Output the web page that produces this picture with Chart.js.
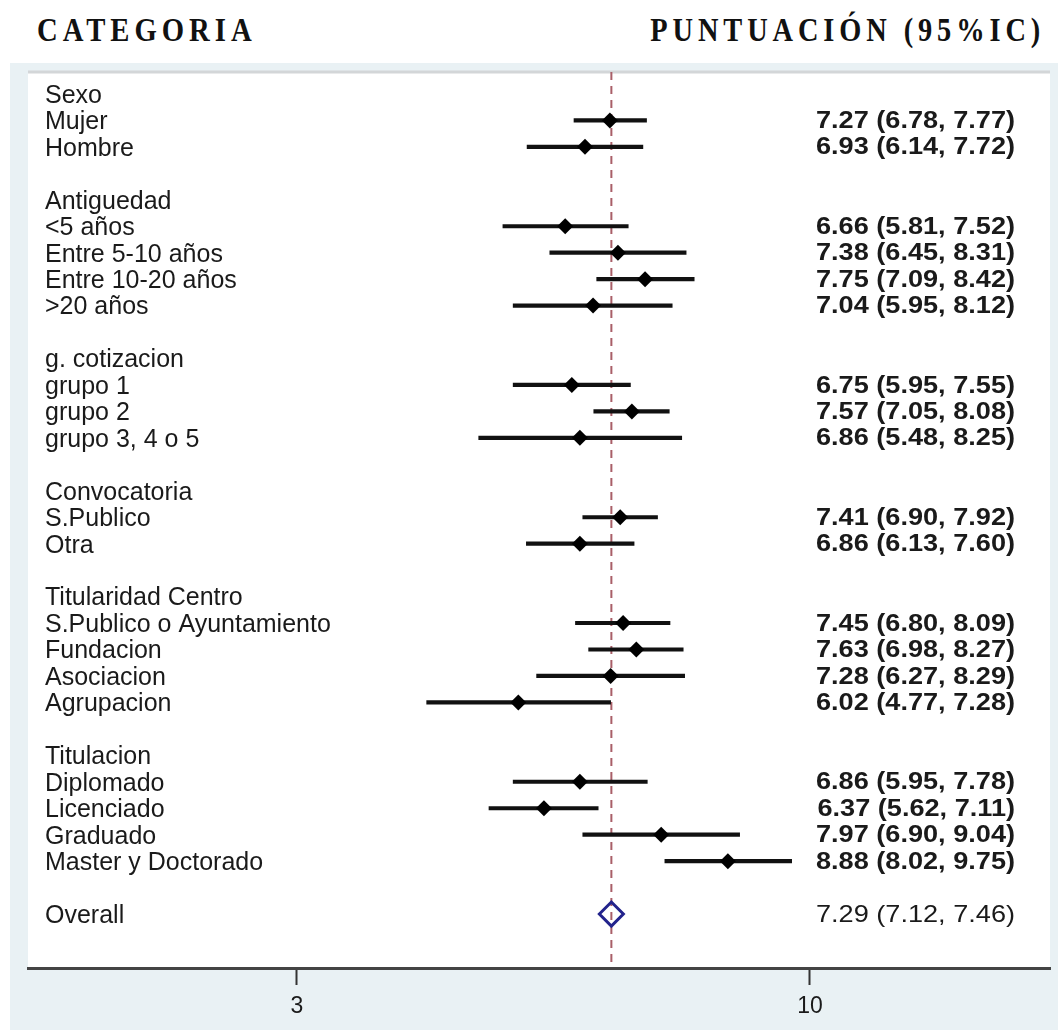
<!DOCTYPE html>
<html>
<head>
<meta charset="utf-8">
<script src="https://cdn.jsdelivr.net/npm/chart.js@4.4.1/dist/chart.umd.min.js"></script>
<style>
  html, body { margin: 0; padding: 0; background: #ffffff; }
  #wrap { position: relative; width: 1058px; height: 1030px; overflow: hidden; }
  #outer { position: absolute; left: 10px; top: 63px; width: 1048px; height: 967px; background: #e9f1f4; }
  .head { position: absolute; top: 14px; font-family: "Liberation Serif", "Times New Roman", serif;
          font-weight: bold; font-size: 33px; line-height: 33px; letter-spacing: 5.7px; color: #111;
          white-space: nowrap; }
  #hLeft { left: 37px; transform: scaleX(0.87); transform-origin: left top; }
  #hRight { right: 13px; transform: scaleX(0.86); transform-origin: right top; }
  #forest { position: absolute; left: 0; top: 0; }
</style>
</head>
<body>
<div id="wrap">
  <div id="outer"></div>
  <div class="head" id="hLeft">CATEGORIA</div>
  <div class="head" id="hRight">PUNTUACIÓN (95%IC)</div>
  <canvas id="forest" width="1058" height="1030"></canvas>
</div>
<script>
// rows of the forest plot, top to bottom ('' = spacer row)
const rowLabels = [
  'Sexo', 'Mujer', 'Hombre', '',
  'Antiguedad', '<5 años', 'Entre 5-10 años', 'Entre 10-20 años', '>20 años', '',
  'g. cotizacion', 'grupo 1', 'grupo 2', 'grupo 3, 4 o 5', '',
  'Convocatoria', 'S.Publico', 'Otra', '',
  'Titularidad Centro', 'S.Publico o Ayuntamiento', 'Fundacion', 'Asociacion', 'Agrupacion', '',
  'Titulacion', 'Diplomado', 'Licenciado', 'Graduado', 'Master y Doctorado', '',
  'Overall'
];
const estimate = [
  null, 7.27, 6.93, null,
  null, 6.66, 7.38, 7.75, 7.04, null,
  null, 6.75, 7.57, 6.86, null,
  null, 7.41, 6.86, null,
  null, 7.45, 7.63, 7.28, 6.02, null,
  null, 6.86, 6.37, 7.97, 8.88, null,
  7.29
];
const lowerCI = [
  null, 6.78, 6.14, null,
  null, 5.81, 6.45, 7.09, 5.95, null,
  null, 5.95, 7.05, 5.48, null,
  null, 6.90, 6.13, null,
  null, 6.80, 6.98, 6.27, 4.77, null,
  null, 5.95, 5.62, 6.90, 8.02, null,
  7.12
];
const upperCI = [
  null, 7.77, 7.72, null,
  null, 7.52, 8.31, 8.42, 8.12, null,
  null, 7.55, 8.08, 8.25, null,
  null, 7.92, 7.60, null,
  null, 8.09, 8.27, 8.29, 7.28, null,
  null, 7.78, 7.11, 9.04, 9.75, null,
  7.46
];
const xTicks = [3, 10];

const overallRow = rowLabels.indexOf('Overall');
const yMin = -0.83, yMax = 33.04;
const xMin = -0.67, xMax = 13.275;

const subRows = estimate.map((v, i) => i).filter(i => estimate[i] !== null && i !== overallRow);

// white panel + right hand estimate column
const panelPlugin = {
  id: 'panel',
  beforeDraw(chart) {
    const {ctx, chartArea: a} = chart;
    ctx.save();
    ctx.fillStyle = '#ffffff';
    ctx.fillRect(a.left, a.top, a.right - a.left, a.bottom - a.top);
    ctx.strokeStyle = '#d3d6d8';
    ctx.lineWidth = 3;
    ctx.beginPath();
    ctx.moveTo(a.left, a.top);
    ctx.lineTo(a.right, a.top);
    ctx.stroke();
    ctx.restore();
  },
  afterDatasetsDraw(chart) {
    const {ctx, chartArea: a, scales: {y}} = chart;
    const xr = a.right - 35;
    estimate.forEach((v, i) => {
      if (v === null) return;
      const txt = v.toFixed(2) + ' (' + lowerCI[i].toFixed(2) + ', ' + upperCI[i].toFixed(2) + ')';
      ctx.save();
      ctx.translate(xr, y.getPixelForValue(i) + 1);
      ctx.scale(1.13, 1);
      ctx.textAlign = 'right';
      ctx.textBaseline = 'middle';
      ctx.fillStyle = '#1a1a1a';
      ctx.font = (i === overallRow ? 'normal' : 'bold') + ' 24px "Liberation Sans", Arial, sans-serif';
      ctx.fillText(txt, 0, 0);
      ctx.restore();
    });
  }
};

new Chart(document.getElementById('forest'), {
  type: 'bar',
  data: {
    datasets: [
      {
        type: 'line',
        label: 'ref',
        data: [{x: estimate[overallRow], y: yMin}, {x: estimate[overallRow], y: yMax}],
        borderColor: '#a95f68',
        borderWidth: 2,
        borderDash: [8, 6],
        pointRadius: 0,
        order: 3
      },
      {
        type: 'bar',
        label: 'IC 95%',
        indexAxis: 'y',
        data: subRows.map(i => ({y: i, x: [lowerCI[i], upperCI[i]]})),
        backgroundColor: '#111111',
        barThickness: 3.5,
        order: 2
      },
      {
        type: 'scatter',
        label: 'Puntuación',
        data: subRows.map(i => ({x: estimate[i], y: i})),
        pointStyle: 'rectRot',
        pointRadius: 8,
        backgroundColor: '#000000',
        borderColor: '#000000',
        borderWidth: 0,
        order: 1
      },
      {
        type: 'scatter',
        label: 'Overall',
        data: [{x: estimate[overallRow], y: overallRow}],
        pointStyle: 'rectRot',
        pointRadius: 12,
        backgroundColor: 'rgba(255,255,255,0)',
        borderColor: '#22238c',
        borderWidth: 3,
        order: 0
      }
    ]
  },
  options: {
    responsive: false,
    animation: false,
    devicePixelRatio: 1,
    layout: { autoPadding: false, padding: { left: 28, right: 8, top: 72, bottom: 10 } },
    plugins: { legend: { display: false }, tooltip: { enabled: false } },
    scales: {
      x: {
        type: 'linear',
        position: 'bottom',
        offset: false,
        min: xMin,
        max: xMax,
        afterBuildTicks: axis => { axis.ticks = xTicks.map(v => ({value: v})); },
        afterFit: axis => { axis.height = 52; },
        grid: { offset: false, drawOnChartArea: false, drawTicks: true, tickLength: 17, tickWidth: 2, tickColor: '#333333' },
        border: { display: true, color: '#444444', width: 3 },
        ticks: { color: '#1a1a1a', padding: 8, maxRotation: 0, font: { family: '"Liberation Sans", Arial, sans-serif', size: 23 } }
      },
      y: {
        type: 'linear',
        reverse: true,
        offset: false,
        min: yMin,
        max: yMax,
        afterBuildTicks: axis => { axis.ticks = rowLabels.map((l, i) => ({value: i})); },
        afterFit: axis => { axis.width = 0; },
        grid: { offset: false, display: false, drawTicks: false },
        border: { display: false },
        ticks: {
          mirror: true,
          padding: 17,
          labelOffset: 2,
          autoSkip: false,
          color: '#1a1a1a',
          font: { family: '"Liberation Sans", Arial, sans-serif', size: 25 },
          callback: v => rowLabels[v]
        }
      }
    }
  },
  plugins: [panelPlugin]
});
</script>
</body>
</html>
